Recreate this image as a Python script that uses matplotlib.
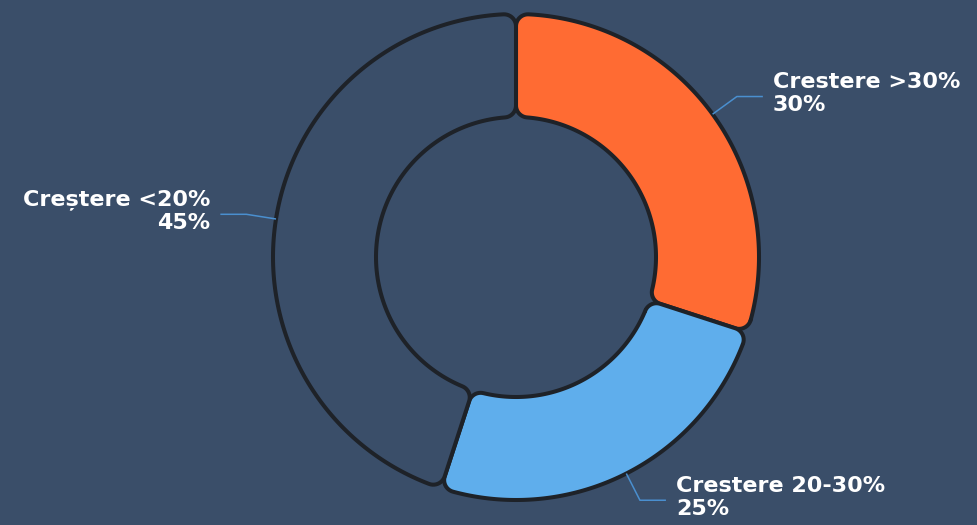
import numpy as np
import matplotlib
matplotlib.use("Agg")
import matplotlib.pyplot as plt
from matplotlib.patches import Polygon

# data
labels = ["Crestere >30%", "Crestere 20-30%", "Creștere <20%"]
values = [30, 25, 45]
colors = ["#FF6B33", "#5FAEEC", "#3A4E69"]

bg = "#3A4E69"
edge = "#1E2228"

W, H = 977, 525
cx, cy = 516, H - 257
r_out, r_in = 243, 140
corner = 12


def arc(c, r, a0, a1, n=40):
    t = np.linspace(a0, a1, n)
    return np.column_stack([c[0] + r * np.cos(t), c[1] + r * np.sin(t)])


def rounded_sector(t1, t2):
    # annular sector from t1 to t2 (radians, ccw) with rounded corners
    do = np.arcsin(corner / (r_out - corner))
    di = np.arcsin(corner / (r_in + corner))
    O = np.array([cx, cy])

    def pt(r, a):
        return O + r * np.array([np.cos(a), np.sin(a)])

    pts = [
        arc(pt(r_out - corner, t1 + do), corner, t1 - np.pi / 2, t1 + do, 12),
        arc(O, r_out, t1 + do, t2 - do, 150),
        arc(pt(r_out - corner, t2 - do), corner, t2 - do, t2 + np.pi / 2, 12),
        arc(pt(r_in + corner, t2 - di), corner, t2 + np.pi / 2, t2 - di + np.pi, 12),
        arc(O, r_in, t2 - di, t1 + di, 100),
        arc(pt(r_in + corner, t1 + di), corner, t1 + di + np.pi, t1 + 1.5 * np.pi, 12),
    ]
    return np.vstack(pts)


fig = plt.figure(figsize=(W / 100, H / 100), dpi=100, facecolor=bg)
ax = fig.add_axes([0, 0, 1, 1])
ax.set_xlim(0, W)
ax.set_ylim(0, H)
ax.set_facecolor(bg)
ax.axis("off")

total = sum(values)
start = 90.0  # degrees, going clockwise from the top
for lab, v, col in zip(labels, values, colors):
    span = 360.0 * v / total
    a_hi = np.deg2rad(start)
    a_lo = np.deg2rad(start - span)
    poly = Polygon(rounded_sector(a_lo, a_hi), closed=True,
                   facecolor=col, edgecolor=edge, linewidth=2.9, joinstyle="round")
    ax.add_patch(poly)

    # leader line + label
    mid = np.deg2rad(start - span / 2)
    x0 = cx + r_out * np.cos(mid)
    y0 = cy + r_out * np.sin(mid)
    x1 = cx + (r_out + 30) * np.cos(mid)
    y1 = cy + (r_out + 30) * np.sin(mid)
    right = np.cos(mid) >= 0
    x2 = x1 + (26 if right else -26)
    ax.plot([x0, x1, x2], [y0, y1, y1], color="#4A8FCF", lw=1.1,
            solid_capstyle="butt")
    ax.text(x2 + (10 if right else -10), y1 + 3, f"{lab}\n{v}%",
            ha="left" if right else "right", va="center",
            multialignment="left" if right else "right",
            color="white", fontsize=16, fontweight="bold",
            family=["DejaVu Sans"], linespacing=1.2)
    start -= span

fig.savefig("out.png", dpi=100, facecolor=bg)
